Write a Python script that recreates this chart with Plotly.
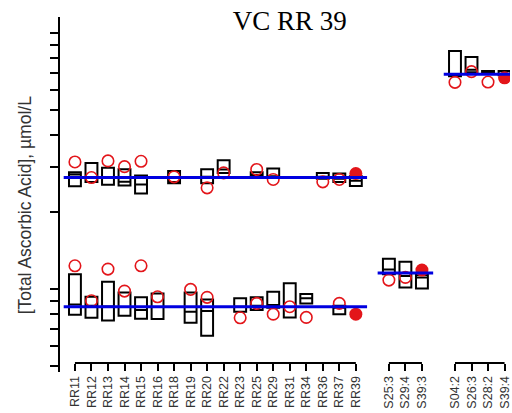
import math
import plotly.graph_objects as go

# ---- categories -------------------------------------------------------
rr_labels = ["RR11", "RR12", "RR13", "RR14", "RR15", "RR16", "RR18", "RR19", "RR20",
             "RR22", "RR23", "RR25", "RR29", "RR31", "RR34", "RR36", "RR37", "RR39"]
s3_labels = ["S25:3", "S29:4", "S39:3"]
s4_labels = ["S04:2", "S26:3", "S28:2", "S39:4"]
highlight = {"RR39", "S39:3", "S39:4"}

# ---- RR series, higher level (µmol/L) ---------------------------------
rr_hi_q1 = [25.25, 26.2, 25.6, 25.4, 23.65, None, 25.9, None, 25.9, 28.46, None, 27.6, 27.3, None, None, 27.0, 26.2, 25.3]
rr_hi_med = [28.05, 27.3, 27.3, 26.25, 25.64, None, 26.2, None, 27.46, 29.35, None, 27.9, 27.6, None, None, 27.5, 27.0, 26.5]
rr_hi_q3 = [28.64, 31.1, 29.8, 29.4, 27.8, None, 28.97, None, 29.4, 31.9, None, 28.6, 29.6, None, None, 28.4, 28.3, 27.6]
rr_hi_pt = [31.4, 27.3, 31.7, 30.1, 31.6, None, 27.46, None, 24.87, 28.46, None, 29.36, 26.82, None, None, 26.25, 26.82, 28.3]

# ---- RR series, lower level ------------------------------------------
rr_lo_q1 = [7.93, 7.72, 7.53, 7.86, 7.66, 7.63, None, 7.39, 6.57, None, 8.15, 8.28, 8.45, 7.75, 8.79, None, 7.98, None]
rr_lo_med = [8.7, 8.6, 8.55, 8.5, 8.28, 8.5, None, 8.15, 8.2, None, 8.53, 8.6, 8.66, 8.5, 9.2, None, 8.45, None]
rr_lo_q3 = [11.42, 9.33, 10.68, 9.7, 9.28, 9.6, None, 9.7, 9.1, None, 9.20, 9.28, 9.76, 10.53, 9.56, None, 8.6, None]
rr_lo_pt = [12.33, 9.00, 11.97, 9.82, 12.33, 9.33, None, 9.97, 9.28, None, 7.72, 8.79, 7.98, 8.53, 7.75, None, 8.79, 7.98]

# ---- S series ---------------------------------------------------------
s3_q1 = [11.44, 10.15, 10.06]
s3_med = [11.94, 11.24, 11.11]
s3_q3 = [13.15, 12.78, 11.34]
s3_pt = [10.84, 11.11, 11.86]

s4_q1 = [67.9, 70.4, 69.6, 68.6]
s4_med = [69.2, 72.0, 70.5, 69.5]
s4_q3 = [85.3, 80.8, 71.2, 71.2]
s4_pt = [64.3, 70.8, 64.5, 67.0]

# ---- assigned target values -------------------------------------------
target_rr_hi = 27.3
target_rr_lo = 8.53
target_s3 = 11.55
target_s4 = 69.2

y_ticks = [5, 6, 7, 8, 9, 10, 20, 30, 40, 50, 60, 70, 80, 90, 100]

# ---- x positions: groups separated by one empty slot ------------------
groups = [rr_labels, s3_labels, s4_labels]
pos = {}
slot = 0
for grp in groups:
    for lab in grp:
        pos[lab] = slot
        slot += 1
    slot += 1

RED = "#e3151a"
fig = go.Figure()


def add_boxes(labels, q1, med, q3):
    keep = [k for k in range(len(labels)) if q1[k] is not None]
    fig.add_trace(go.Box(
        x=[pos[labels[k]] for k in keep],
        q1=[q1[k] for k in keep],
        median=[med[k] for k in keep],
        q3=[q3[k] for k in keep],
        lowerfence=[q1[k] for k in keep],
        upperfence=[q3[k] for k in keep],
        orientation="v", width=0.72, whiskerwidth=0, boxpoints=False,
        line=dict(color="black", width=2), fillcolor="rgba(0,0,0,0)",
        hoverinfo="skip", showlegend=False,
    ))


def add_points(labels, vals):
    keep = [k for k in range(len(labels)) if vals[k] is not None]
    open_k = [k for k in keep if labels[k] not in highlight]
    fill_k = [k for k in keep if labels[k] in highlight]
    fig.add_trace(go.Scatter(
        x=[pos[labels[k]] for k in open_k], y=[vals[k] for k in open_k],
        mode="markers", showlegend=False, hoverinfo="skip",
        marker=dict(symbol="circle-open", size=11.5, color=RED, line=dict(width=1.6, color=RED)),
    ))
    fig.add_trace(go.Scatter(
        x=[pos[labels[k]] for k in fill_k], y=[vals[k] for k in fill_k],
        mode="markers", showlegend=False, hoverinfo="skip",
        marker=dict(symbol="circle", size=13, color=RED, line=dict(width=0)),
    ))


def add_target(labels, value):
    x0 = pos[labels[0]] - 0.68
    x1 = pos[labels[-1]] + 0.68
    fig.add_trace(go.Scatter(
        x=[x0, x1], y=[value, value], mode="lines", showlegend=False,
        hoverinfo="skip", line=dict(color="#0000e0", width=3),
    ))


add_boxes(rr_labels, rr_hi_q1, rr_hi_med, rr_hi_q3)
add_boxes(rr_labels, rr_lo_q1, rr_lo_med, rr_lo_q3)
add_boxes(s3_labels, s3_q1, s3_med, s3_q3)
add_boxes(s4_labels, s4_q1, s4_med, s4_q3)

add_points(rr_labels, rr_hi_pt)
add_points(rr_labels, rr_lo_pt)
add_points(s3_labels, s3_pt)
add_points(s4_labels, s4_pt)

add_target(rr_labels, target_rr_hi)
add_target(rr_labels, target_rr_lo)
add_target(s3_labels, target_s3)
add_target(s4_labels, target_s4)

# ---- axes ---------------------------------------------------------------
x_axis_pos = 0.0254
all_labels = rr_labels + s3_labels + s4_labels

# one axis line per group, spanning its first to last tick
for grp in groups:
    fig.add_shape(type="line", xref="x", yref="paper",
                  x0=pos[grp[0]], x1=pos[grp[-1]], y0=x_axis_pos, y1=x_axis_pos,
                  line=dict(color="black", width=2))

fig.update_xaxes(
    range=[-0.904, 26.33], tickmode="array",
    tickvals=[pos[l] for l in all_labels], ticktext=all_labels,
    tickangle=-90, ticks="outside", ticklen=7, tickwidth=2, tickcolor="black",
    showline=False, showgrid=False, zeroline=False,
    anchor="free", position=x_axis_pos, ticklabeloverflow="allow",
    tickfont=dict(family="Liberation Sans, Arial, sans-serif", size=12.5, color="#333333"),
)
fig.update_yaxes(
    type="log", range=[math.log10(4.74), math.log10(115.8)],
    tickmode="array", tickvals=y_ticks, showticklabels=False,
    ticks="outside", ticklen=8, tickwidth=2, tickcolor="black",
    showline=True, linewidth=2, linecolor="black",
    showgrid=False, zeroline=False,
)

fig.add_annotation(
    text="[Total Ascorbic Acid], µmol/L", textangle=-90,
    xref="paper", yref="paper", x=-0.0774, y=0.47,
    xanchor="center", yanchor="middle", showarrow=False,
    font=dict(family="Liberation Sans, Arial, sans-serif", size=17.5, color="#333333"),
)

fig.update_layout(
    width=512, height=413,
    margin=dict(l=60, r=0, t=17, b=41),
    paper_bgcolor="white", plot_bgcolor="white",
    boxmode="overlay",
    title=dict(text="VC RR 39", x=289.7 / 512, xanchor="center",
               y=1 - 21 / 413, yanchor="middle", yref="container",
               font=dict(family="Liberation Serif, Times New Roman, serif", size=27, color="black")),
)

fig.write_html("out.html")
